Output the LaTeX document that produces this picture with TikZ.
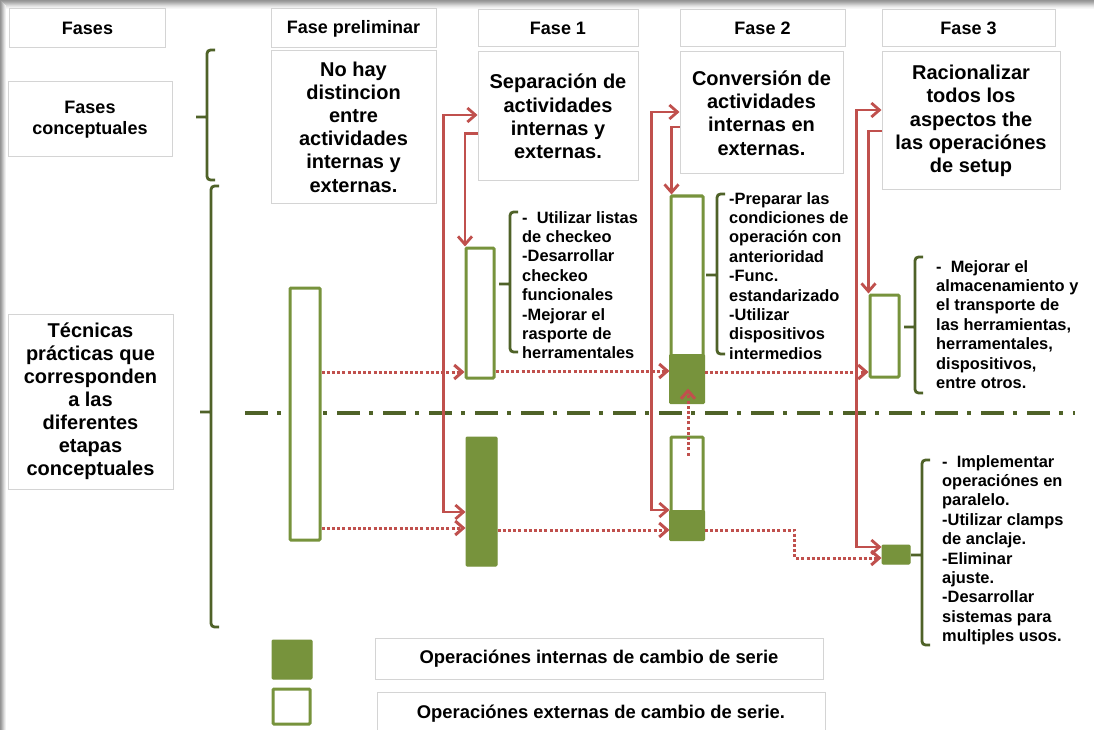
\documentclass[tikz,border=0pt]{standalone}
\usepackage{fontspec}
\setmainfont{Liberation Sans}
\usetikzlibrary{arrows.meta}
\definecolor{olivebar}{HTML}{77933C}
\definecolor{darkolive}{HTML}{4F6228}
\definecolor{redline}{HTML}{C0504D}
\definecolor{boxline}{HTML}{D4D4D4}
\newcommand\fHead{\fontsize{18}{21}\selectfont\bfseries}
\newcommand\fLeft{\fontsize{20}{23}\selectfont\bfseries}
\newcommand\fBox{\fontsize{20}{23.2}\selectfont\bfseries}
\newcommand\fBul{\fontsize{16.4}{19.4}\selectfont\bfseries}
\newcommand\fKey{\fontsize{18.4}{21}\selectfont\bfseries}
\newcommand\gbrace[4]{%
  \draw[gbr] (#1+8,#2) -- (#1,#2) -- (#1,#3) -- (#1+8,#3) (#1,#4) -- (#1-11,#4);}
\begin{document}
\begin{tikzpicture}[x=1pt,y=-1pt,
  gbox/.style={draw=boxline, line width=1pt, fill=white, align=center, inner sep=0pt},
  obar/.style={draw=olivebar, line width=3pt, fill=white, inner sep=0pt, rounded corners=1pt},
  fbar/.style={draw=olivebar, line width=1pt, fill=olivebar, inner sep=0pt, rounded corners=1pt},
  gbr/.style={draw=darkolive, line width=2.8pt, rounded corners=3.5pt},
  >={Straight Barb[length=8pt,width=14pt]},
  rsolid/.style={draw=redline, line width=2.8pt},
  rdot/.style={draw=redline, line width=3pt, dash pattern=on 3pt off 2.2pt},
  bul/.style={align=left, inner sep=0pt, anchor=north west, font=\fBul}]
\useasboundingbox (0,0) rectangle (1094,730);
\fill[white] (0,0) rectangle (1094,730);
% soft shadow along the top and left edges
\foreach \i/\c in {0/42,1/38,2/33,3/27,4/21,5/15,6/10,7/6,8/3}{
  \fill[black!\c] (0,\i) rectangle (1094,\i+1);}
\foreach \i/\c in {0/42,1/36,2/28,3/20,4/12,5/6}{
  \fill[black!\c] (\i,\i) rectangle (\i+1,730);}

% column headers
\node[gbox, minimum width=156pt, minimum height=39pt, font=\fHead] (hFases) at (87.5,28.5) {Fases};
\node[gbox, minimum width=165pt, minimum height=39pt, font=\fHead] (hPre) at (353.5,28.5) {Fase preliminar};
\node[gbox, minimum width=160pt, minimum height=37pt, font=\fHead] (h1) at (558,28.5) {Fase 1};
\node[gbox, minimum width=165pt, minimum height=37pt, font=\fHead] (h2) at (762.5,28.5) {Fase 2};
\node[gbox, minimum width=173pt, minimum height=37pt, font=\fHead] (h3) at (968.5,28.5) {Fase 3};

% row labels
\node[gbox, minimum width=164pt, minimum height=75pt, font=\fHead] (lConc) at (90,119.5) {Fases\\conceptuales};
\node[gbox, minimum width=165pt, minimum height=175pt, font=\fLeft] (lTec) at (90.5,401.5)
  {Técnicas\\prácticas que\\corresponden\\a las\\diferentes\\etapas\\conceptuales};

% phase descriptions
\node[gbox, minimum width=165pt, minimum height=153pt, font=\fBox] (bPre) at (353.5,127)
  {No hay\\distincion\\entre\\actividades\\internas y\\externas.};
\node[gbox, minimum width=160pt, minimum height=129pt, font=\fBox] (b1) at (558,116.5)
  {Separación de\\actividades\\internas y\\externas.};
\node[gbox, minimum width=163pt, minimum height=122pt, font=\fBox] (b2) at (761.5,113)
  {Conversión de\\actividades\\internas en\\externas.};
\node[gbox, minimum width=178pt, minimum height=138pt, font=\fBox] (b3) at (971,121)
  {Racionalizar\\todos los\\aspectos the\\las operaciónes\\de setup};

% braces
\gbrace{207}{50}{180}{117}
\gbrace{211}{186}{627}{412}
\gbrace{510}{212}{352}{284}
\gbrace{717}{194}{354}{275}
\gbrace{915}{257}{393}{327}
\gbrace{922}{460}{645}{555}

% separator between external and internal operations
\draw[darkolive, line width=3.4pt, dash pattern=on 23pt off 9pt on 4pt off 10pt] (245,413) -- (1075,413);

% operation bars
\node[obar, minimum width=30pt, minimum height=252pt] (pBar) at (305,414) {};
\node[obar, minimum width=28pt, minimum height=130pt] (f1o) at (480,313) {};
\node[fbar, minimum width=31pt, minimum height=129pt] (f1f) at (481.5,501.5) {};
\node[obar, minimum width=32pt, minimum height=205pt] (f2u) at (687,298.5) {};
\node[fbar, minimum width=35pt, minimum height=49pt, anchor=south] (f2uIn) at ([yshift=-1.5pt]f2u.south) {};
\node[obar, minimum width=32pt, minimum height=101pt] (f2l) at (687,487.5) {};
\node[fbar, minimum width=35pt, minimum height=30pt, anchor=south] (f2lIn) at ([yshift=-1.5pt]f2l.south) {};
\node[obar, minimum width=29pt, minimum height=82pt] (f3o) at (884.5,336) {};
\node[fbar, minimum width=28pt, minimum height=19pt] (f3f) at (896,554.5) {};

% bullet lists
\node[bul] (t1) at (522,211) {-\ \ Utilizar listas\\de checkeo\\-Desarrollar\\checkeo\\funcionales\\-Mejorar el\\rasporte de\\herramentales};
\node[bul] (t2) at (729,192) {-Preparar las\\condiciones de\\operación con\\anterioridad\\-Func.\\estandarizado\\-Utilizar\\dispositivos\\intermedios};
\node[bul] (t3) at (936,260) {-\ \ Mejorar el\\almacenamiento y\\el transporte de\\las herramientas,\\herramentales,\\dispositivos,\\entre otros.};
\node[bul] (t4) at (942,455) {-\ \ Implementar\\operaciónes en\\paralelo.\\-Utilizar clamps\\de anclaje.\\-Eliminar\\ajuste.\\-Desarrollar\\sistemas para\\multiples usos.};

% phase links (solid)
\draw[rsolid,<->] ([yshift=1.5pt]b1.west) -- ++(-34,0) |- ([yshift=-10.5pt]f1f.west);
\draw[rsolid,->] ([yshift=-17pt]b1.west) -| ([xshift=0.5pt]f1o.north west);
\draw[rsolid,<->] ([yshift=1pt]b2.west) -- ++(-28,0) |- ([yshift=-22.5pt]f2l.west);
\draw[rsolid,->] ([yshift=-14pt]b2.west) -| ([xshift=2pt]f2u.north west);
\draw[rsolid,<->] ([yshift=11pt]b3.west) -- ++(-25,0) |- ([yshift=7.5pt]f3f.west);
\draw[rsolid,->] ([yshift=-10pt]b3.west) -| ([xshift=0pt]f3o.north west);

% operation flow (dotted)
\coordinate (d1) at ([yshift=42pt]pBar.east);
\coordinate (d2) at ([yshift=-58pt]f1o.east);
\coordinate (d3) at ([yshift=-73.5pt]f2u.east);
\coordinate (d4) at ([yshift=-114pt]pBar.east);
\coordinate (d5) at ([yshift=-28.5pt]f1f.east);
\coordinate (d6) at ([yshift=-42.5pt]f2l.east);
\draw[rdot,->] (d1) -- (d1 -| f1o.west);
\draw[rdot,->] (d2) -- (d2 -| f2u.west);
\draw[rdot,->] (d3) -- (d3 -| f3o.west);
\draw[rdot,->] (d4) -- (d4 -| f1f.west);
\draw[rdot,->] (d5) -- (d5 -| f2l.west);
\draw[rdot,->] (d6) -- ++(90,0) |- ([yshift=-3.5pt]f3f.west);
\draw[rdot,->] ([xshift=1pt,yshift=-20pt]f2l.north) -- ([xshift=1pt,yshift=14pt]f2u.south);

% legend
\node[fbar, minimum width=40pt, minimum height=39pt] (kInt) at (292,659.5) {};
\node[obar, minimum width=37pt, minimum height=35pt] (kExt) at (291.5,706.5) {};
\node[gbox, minimum width=448pt, minimum height=41pt, font=\fKey] (lInt) at (599,659) {Operaciónes internas de cambio de serie};
\node[gbox, minimum width=448pt, minimum height=44pt, font=\fKey] (lExt) at (601,714) {Operaciónes externas de cambio de serie.};
\end{tikzpicture}
\end{document}
